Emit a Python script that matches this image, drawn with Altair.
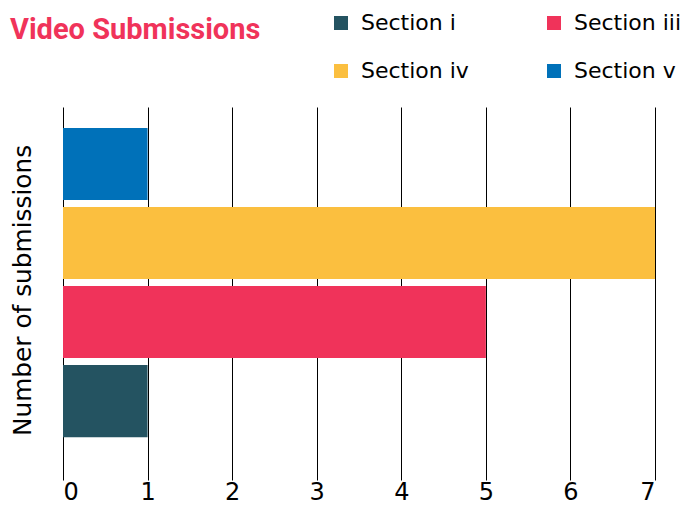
import altair as alt
import pandas as pd

sections = ["Section i", "Section iv", "Section iii", "Section v"]
submissions = [1, 7, 5, 1]
colors = ["#245361", "#fbbf3f", "#f0335a", "#0071b9"]
order = ["Section v", "Section iv", "Section iii", "Section i"]

df = pd.DataFrame({"section": sections, "count": submissions})

FONT = "DejaVu Sans"

chart = alt.Chart(df).mark_bar().encode(
    x=alt.X("count:Q",
            scale=alt.Scale(domain=[0, 7], nice=False),
            axis=alt.Axis(values=list(range(8)), format="d", title=None,
                          domain=False, ticks=False, grid=True,
                          gridColor="#000000", gridWidth=1, gridOpacity=1,
                          labelFontSize=24, labelFont=FONT, labelColor="#000000",
                          labelBaseline="alphabetic", labelPadding=19)),
    y=alt.Y("section:N", sort=order,
            scale=alt.Scale(paddingInner=0.0886, paddingOuter=0.405, align=0.33),
            axis=alt.Axis(title="Number of submissions", labels=False, ticks=False,
                          domain=False, grid=False, titleFontSize=24.8, titleFont=FONT,
                          titleFontWeight="normal", titleColor="#000000",
                          titlePadding=28, titleY=183)),
    color=alt.Color("section:N",
                    scale=alt.Scale(domain=sections, range=colors),
                    legend=alt.Legend(title=None, orient="none", legendX=267, legendY=-95,
                                      columns=2, columnPadding=74, rowPadding=26,
                                      symbolType="square", symbolSize=196,
                                      symbolStrokeWidth=0, labelFontSize=22,
                                      labelFont=FONT, labelColor="#000000",
                                      labelOffset=9)),
).properties(
    width=592,
    height=373,
    title=alt.TitleParams("Video Submissions", anchor="start", frame="group",
                          font="Roboto", fontSize=29, fontWeight="bold",
                          color="#f0335a", baseline="alphabetic", offset=0, dx=-53, dy=56),
    autosize=alt.AutoSizeParams(type="none"),
    padding={"left": 55, "top": 99, "right": 33, "bottom": 25},
).configure_view(stroke=None)

chart.save("out.html", embed_options={"renderer": "svg", "actions": False})
